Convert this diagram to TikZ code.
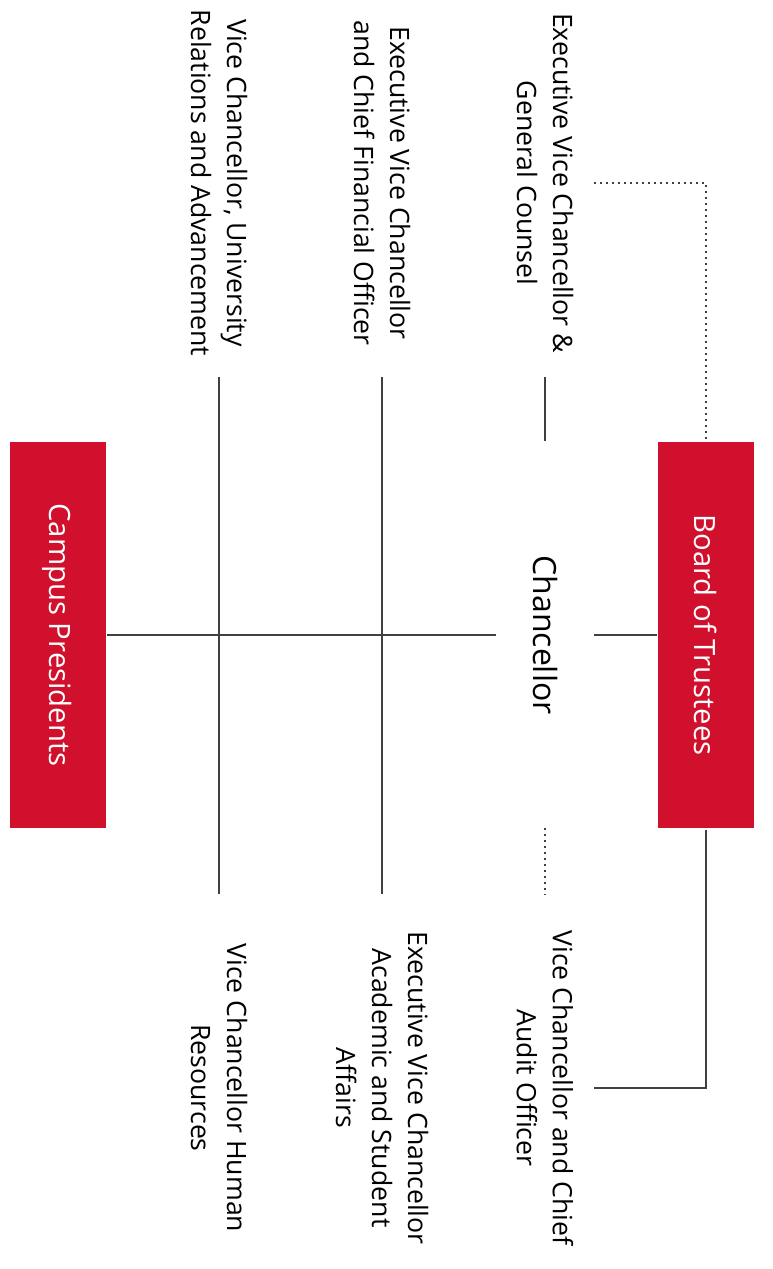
\documentclass[tikz,border=0pt]{standalone}
\usepackage{fontspec}
\setmainfont{Open Sans}
\definecolor{boxred}{RGB}{208,16,44}
\definecolor{linegray}{RGB}{64,64,64}
\tikzset{every picture/.style={line width=1.8pt}}
\tikzset{
	redbox/.style={rotate=-90, fill=boxred, text=white, minimum width=290pt, minimum height=72pt, inner sep=0pt, font=\fontsize{22}{26}\selectfont},
	role/.style={rotate=-90, align=center, minimum width=289pt, minimum height=72pt, inner sep=0pt, font=\fontsize{20}{27}\selectfont},
	link/.style={draw=linegray},
	dotlink/.style={draw=linegray, line width=1.5pt, dash pattern=on 1.5pt off 3pt}}

\begin{document}
\begin{tikzpicture}[x=0.75pt,y=0.75pt,yscale=-1,xscale=1]
	\useasboundingbox (0,0) rectangle (772,1269);

	% Boxes
	\node[redbox] (board) at (706,635) {Board of Trustees};
	\node[redbox] (campus) at (57.5,635) {Campus Presidents};
	% Chancellor
	\node[role, font=\fontsize{24}{28}\selectfont, minimum width=130pt] (chanc) at (545,635) {Chancellor};

	% Text Node
	\node[role] (gc) at (545,183) {Executive Vice Chancellor \&\\General Counsel};
	% Text Node
	\node[role] (cfo) at (382,183) {Executive Vice Chancellor\\and Chief Financial Officer};
	% Text Node
	\node[role] (vcra) at (219,183) {Vice Chancellor, University\\Relations and Advancement};
	% Text Node
	\node[role] (audit) at (545,1088) {Vice Chancellor and Chief\\Audit Officer};
	% Text Node
	\node[role] (acad) at (382,1088) {Executive Vice Chancellor\\Academic and Student\\Affairs};
	% Text Node
	\node[role] (hr) at (219,1088) {Vice Chancellor Human\\Resources};

	\coordinate (gcend) at (545,441);
	\coordinate (auditend) at (545,828);

	% Straight Lines
	\draw[link] (board) -- (chanc);
	\draw[link] (chanc) -- (campus);
	\draw[link] (cfo.east) -- (acad.west);
	\draw[link] (vcra.east) -- (hr.west);
	\draw[link] (gc.east) -- (gcend);
	\draw[dotlink] (auditend) -- (audit.west);
	\draw[dotlink] (gc.north) -| (board.west);
	\draw[link] (board.east) |- (audit.north);

\end{tikzpicture}
\end{document}
